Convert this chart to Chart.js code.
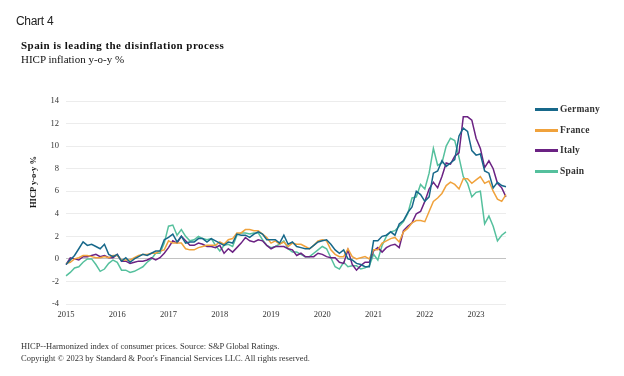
<!DOCTYPE html>
<html>
<head>
<meta charset="utf-8">
<script src="https://cdn.jsdelivr.net/npm/chart.js@4/dist/chart.umd.min.js"></script>
<style>
  html, body { margin: 0; padding: 0; background: #fff; }
  #wrap { position: relative; width: 624px; height: 376px; overflow: hidden; background: #fff; }
  #c { position: absolute; left: 0; top: 0; }
  .t { position: absolute; white-space: nowrap; color: #222; }
  #kicker { left: 16px; top: 14px; font: 12px "Liberation Sans", Arial, sans-serif; letter-spacing: -0.3px; line-height: 14px; color: #222; }
  #title { left: 21px; top: 39px; font: bold 11px "Liberation Serif", serif; letter-spacing: 0.45px; line-height: 13px; color: #111; }
  #sub { left: 21px; top: 53px; font: 11px "Liberation Serif", serif; line-height: 13px; color: #111; }
  #ytitle { left: 33px; top: 182px; transform: translate(-50%, -50%) rotate(-90deg); font: bold 8.5px "Liberation Serif", serif; color: #111; }
  .foot { left: 21px; font: 8.5px "Liberation Serif", serif; line-height: 12px; color: #333; }
  .leg { position: absolute; left: 535px; height: 14px; }
  .leg span.l { position: absolute; left: 0; top: 6px; width: 23px; height: 2.5px; }
  .leg span.x { position: absolute; left: 25px; top: 0; font: bold 9.5px "Liberation Serif", serif; line-height: 14px; color: #333; white-space: nowrap; letter-spacing: 0.2px; }
</style>
</head>
<body>
<div id="wrap">
  <canvas id="c" width="624" height="376"></canvas>
  <div class="t" id="kicker">Chart 4</div>
  <div class="t" id="title">Spain is leading the disinflation process</div>
  <div class="t" id="sub">HICP inflation y-o-y %</div>
  <div class="t" id="ytitle">HICP y-o-y %</div>
  <div id="legend"></div>
  <div class="t foot" style="top:340px">HICP--Harmonized index of consumer prices. Source: S&amp;P Global Ratings.</div>
  <div class="t foot" style="top:352px">Copyright © 2023 by Standard &amp; Poor's Financial Services LLC. All rights reserved.</div>
</div>
<script>
// ---- Data (monthly, Jan 2015 – Aug 2023) ----
const years = ["2015","2016","2017","2018","2019","2020","2021","2022","2023"];
const months = ["01","02","03","04","05","06","07","08","09","10","11","12"];
const lastMonthOf2023 = 8;

const seriesNames = ["Germany", "France", "Italy", "Spain"];

const germany = [
  -0.5,-0.1,0.3,0.9,1.5,1.2,1.3,1.1,0.9,1.3,0.4,0.2,
  0.4,-0.2,0.1,-0.3,0.0,0.2,0.4,0.3,0.5,0.7,0.7,1.7,
  1.9,2.2,1.5,2.0,1.4,1.5,1.5,1.8,1.8,1.5,1.8,1.6,
  1.4,1.2,1.5,1.4,2.2,2.1,2.1,1.9,2.2,2.4,2.2,1.7,
  1.7,1.7,1.4,2.1,1.3,1.5,1.1,1.0,0.9,0.9,1.2,1.5,
  1.6,1.7,1.3,0.8,0.5,0.8,0.0,-0.1,-0.4,-0.5,-0.7,-0.7,
  1.6,1.6,2.0,2.1,2.4,2.1,3.1,3.4,4.1,4.6,6.0,5.7,
  5.1,5.5,7.6,7.8,8.7,8.2,8.5,8.8,10.9,11.6,11.3,9.6,
  9.2,9.3,7.8,7.6,6.3,6.8,6.5,6.4
];
const france = [
  -0.4,-0.3,0.0,0.1,0.3,0.3,0.2,0.1,0.1,0.2,0.1,0.3,
  0.3,-0.1,-0.1,-0.1,0.1,0.3,0.4,0.4,0.5,0.5,0.7,0.8,
  1.6,1.4,1.4,1.4,0.9,0.8,0.8,1.0,1.1,1.2,1.2,1.2,
  1.5,1.3,1.7,1.8,2.3,2.3,2.6,2.6,2.5,2.5,2.2,1.9,
  1.4,1.6,1.3,1.5,1.1,1.4,1.3,1.3,1.1,0.9,1.2,1.6,
  1.7,1.6,0.8,0.4,0.2,0.2,0.9,0.2,0.0,0.1,0.2,0.0,
  0.8,0.8,1.4,1.6,1.8,1.9,1.5,2.4,2.7,3.2,3.4,3.4,
  3.3,4.2,5.1,5.4,5.8,6.5,6.8,6.6,6.2,7.1,7.1,6.7,
  7.0,7.3,6.7,6.9,6.0,5.3,5.1,5.7
];
const italy = [
  -0.5,0.1,0.0,-0.1,0.2,0.2,0.3,0.4,0.2,0.3,0.1,0.1,
  0.4,-0.2,-0.2,-0.4,-0.3,-0.2,-0.2,-0.1,0.1,-0.1,0.1,0.5,
  1.0,1.6,1.4,2.0,1.6,1.2,1.2,1.4,1.3,1.1,1.1,1.0,
  1.2,0.5,0.9,0.6,1.0,1.4,1.9,1.6,1.5,1.7,1.6,1.2,
  0.9,1.1,1.1,1.1,0.9,0.8,0.3,0.5,0.2,0.2,0.2,0.5,
  0.4,0.2,0.1,0.1,-0.3,-0.4,0.8,-0.5,-1.0,-0.6,-0.3,-0.3,
  0.7,1.0,0.6,1.0,1.2,1.3,1.0,2.5,2.9,3.2,4.0,4.2,
  5.1,6.2,6.8,6.3,7.3,8.5,8.4,9.1,9.4,12.6,12.6,12.3,
  10.7,9.8,8.1,8.7,8.0,6.7,6.3,5.5
];
const spain = [
  -1.5,-1.2,-0.8,-0.7,-0.3,0.0,0.0,-0.5,-1.1,-0.9,-0.4,-0.1,
  -0.3,-1.0,-1.0,-1.2,-1.1,-0.9,-0.7,-0.3,0.0,0.5,0.5,1.4,
  2.9,3.0,2.1,2.6,2.0,1.6,1.7,2.0,1.8,1.7,1.8,1.2,
  0.7,1.2,1.3,1.1,2.1,2.3,2.3,2.2,2.3,2.3,1.7,1.2,
  1.0,1.1,1.3,1.6,0.9,0.6,0.6,0.4,0.2,0.2,0.5,0.8,
  1.1,0.9,0.1,-0.7,-0.9,-0.3,-0.7,-0.6,-0.6,-0.9,-0.8,-0.6,
  0.4,-0.1,1.2,2.0,2.4,2.5,2.9,3.3,4.0,5.4,5.5,6.6,
  6.2,7.6,9.8,8.3,8.5,10.0,10.7,10.5,9.0,7.3,6.7,5.5,
  5.9,6.0,3.1,3.8,2.9,1.6,2.1,2.4
];
const seriesColors = ["#17688a", "#f0a23c", "#6b2283", "#55c09d"];
const yTicks = { min: -4, max: 14, step: 2 };

// ---- Category labels ----
const labels = [];
years.forEach(y => {
  const n = (y === "2023") ? lastMonthOf2023 : 12;
  for (let m = 0; m < n; m++) labels.push(y + "-" + months[m]);
});

const dataSets = [germany, france, italy, spain];

// ---- HTML legend ----
const legendTops = [102, 123, 143, 164];
const legendEl = document.getElementById('legend');
seriesNames.forEach((name, i) => {
  const row = document.createElement('div');
  row.className = 'leg';
  row.style.top = legendTops[i] + 'px';
  row.innerHTML = '<span class="l" style="background:' + seriesColors[i] + '"></span><span class="x">' + name + '</span>';
  legendEl.appendChild(row);
});

new Chart(document.getElementById('c'), {
  type: 'line',
  data: {
    labels: labels,
    datasets: seriesNames.map((name, i) => ({
      label: name,
      data: dataSets[i],
      borderColor: seriesColors[i],
      backgroundColor: seriesColors[i],
      borderWidth: 1.5,
      pointRadius: 0,
      tension: 0,
      fill: false
    }))
  },
  options: {
    responsive: false,
    animation: false,
    devicePixelRatio: 1,
    layout: { padding: { left: 20, right: 118, top: 101, bottom: 52 } },
    plugins: { legend: { display: false }, tooltip: { enabled: false } },
    scales: {
      x: {
        type: 'category',
        grid: { display: false, drawTicks: false },
        border: { display: false },
        ticks: {
          autoSkip: false,
          maxRotation: 0,
          minRotation: 0,
          padding: 6,
          color: '#333',
          font: { family: '"Liberation Serif", serif', size: 8.5 },
          callback: function (value) {
            const lab = this.getLabelForValue(value);
            return lab.endsWith('-01') ? lab.slice(0, 4) : '';
          }
        },
        afterFit: s => { s.height = 20; }
      },
      y: {
        min: yTicks.min,
        max: yTicks.max,
        grid: {
          drawTicks: false,
          lineWidth: 1,
          color: ctx => (ctx.tick && ctx.tick.value === 0) ? '#c2c2c2' : '#ececec'
        },
        border: { display: false },
        ticks: {
          stepSize: yTicks.step,
          padding: 7,
          color: '#333',
          font: { family: '"Liberation Serif", serif', size: 8.5 }
        },
        afterFit: s => { s.width = 46; }
      }
    }
  }
});
</script>
</body>
</html>
